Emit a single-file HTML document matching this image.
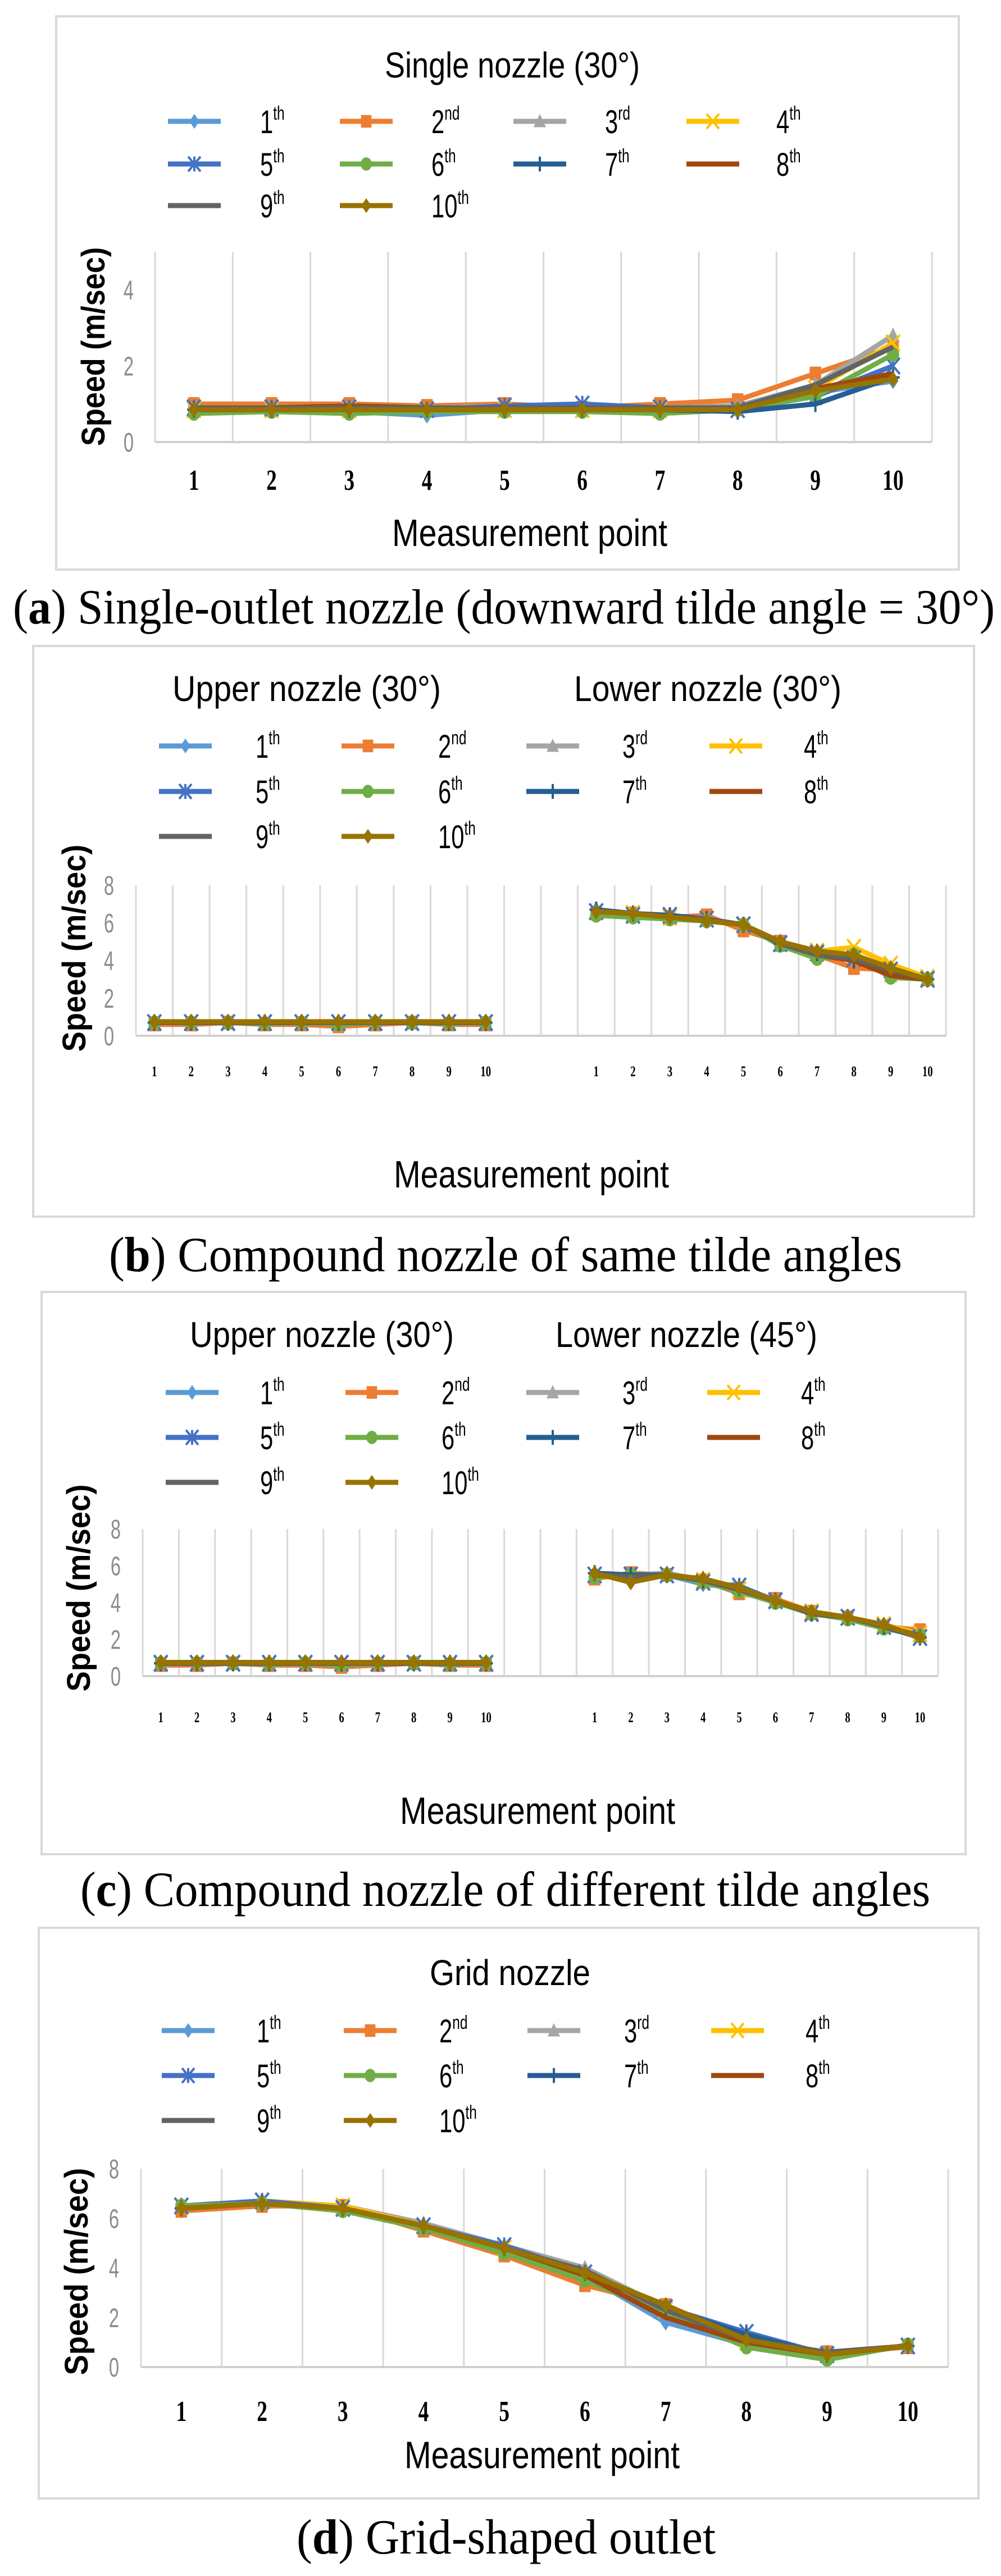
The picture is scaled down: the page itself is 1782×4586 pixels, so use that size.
<!DOCTYPE html>
<html><head><meta charset="utf-8">
<style>
html,body{margin:0;padding:0;background:#fff;}
svg{display:block;}
text{font-family:"Liberation Sans",sans-serif;}
.serif{font-family:"Liberation Serif",serif;}
</style></head>
<body>
<svg id="fig" width="1782" height="4586" viewBox="0 0 1782 4586" xmlns="http://www.w3.org/2000/svg"></svg>
<script>
// ---------- data ----------
const seriesNames = ["1","2","3","4","5","6","7","8","9","10"];
const seriesSup = ["th","nd","rd","th","th","th","th","th","th","th"];
const seriesColors = ["#5B9BD5","#ED7D31","#A5A5A5","#FFC000","#4472C4","#70AD47","#255E91","#9E480E","#636363","#997300"];
const seriesMarkers = ["diamond","square","triangle","x","star","circle","plus","none","none","diamond"];
const pointLabels = ["1","2","3","4","5","6","7","8","9","10"];
const yTicksA = [0,2,4];
const yTicksBCD = [0,2,4,6,8];

// (a) single nozzle
const singleVals = [
 [0.85,0.85,0.8,0.7,0.85,0.85,0.85,0.85,1.3,1.6],
 [1.0,1.0,1.0,0.95,1.0,0.9,1.0,1.1,1.8,2.5],
 [0.9,0.9,0.95,0.9,0.95,0.9,0.9,0.95,1.5,2.8],
 [0.85,0.85,0.85,0.85,0.85,0.85,0.85,0.85,1.4,2.6],
 [0.9,0.9,0.9,0.85,0.95,1.0,0.9,0.85,1.2,2.0],
 [0.75,0.8,0.75,0.8,0.8,0.8,0.75,0.85,1.2,2.3],
 [0.85,0.85,0.85,0.85,0.85,0.85,0.85,0.8,1.0,1.7],
 [0.9,0.9,0.95,0.9,0.9,0.9,0.9,0.85,1.4,1.8],
 [0.9,0.9,0.9,0.9,0.9,0.9,0.9,0.9,1.5,2.5],
 [0.85,0.85,0.85,0.85,0.85,0.85,0.85,0.85,1.35,1.65]
];
// (b) compound same angles
const upperB = [
 [0.7,0.7,0.7,0.7,0.7,0.7,0.7,0.7,0.7,0.7],
 [0.6,0.6,0.7,0.6,0.6,0.5,0.6,0.7,0.6,0.6],
 [0.7,0.7,0.7,0.7,0.7,0.7,0.7,0.7,0.7,0.7],
 [0.7,0.7,0.7,0.7,0.7,0.7,0.7,0.7,0.7,0.7],
 [0.7,0.7,0.7,0.7,0.7,0.7,0.7,0.7,0.7,0.7],
 [0.7,0.7,0.7,0.65,0.7,0.6,0.7,0.7,0.65,0.7],
 [0.7,0.7,0.7,0.7,0.7,0.7,0.7,0.7,0.7,0.7],
 [0.7,0.7,0.7,0.7,0.7,0.7,0.7,0.7,0.7,0.7],
 [0.7,0.7,0.7,0.7,0.7,0.7,0.7,0.7,0.7,0.7],
 [0.75,0.75,0.75,0.75,0.75,0.75,0.75,0.75,0.75,0.75]
];
const lowerB = [
 [6.7,6.5,6.4,6.2,5.9,4.9,4.3,4.0,3.6,3.0],
 [6.5,6.5,6.3,6.4,5.6,5.0,4.3,3.6,3.5,3.0],
 [6.6,6.5,6.3,6.2,5.9,4.8,4.3,4.2,3.2,3.0],
 [6.6,6.5,6.3,6.2,5.9,4.9,4.5,4.7,3.8,3.1],
 [6.6,6.4,6.4,6.2,5.9,4.9,4.4,4.1,3.5,3.0],
 [6.4,6.3,6.2,6.1,5.9,4.8,4.1,4.3,3.1,3.0],
 [6.7,6.5,6.4,6.2,5.9,4.9,4.4,4.0,3.5,3.0],
 [6.6,6.5,6.3,6.2,5.9,4.9,4.3,4.0,3.2,3.0],
 [6.6,6.5,6.3,6.2,5.9,4.9,4.3,4.1,3.5,3.0],
 [6.6,6.5,6.3,6.1,5.9,5.0,4.5,4.3,3.6,3.0]
];
// (c) compound different angles
const upperC = upperB;
const lowerC = [
 [5.5,5.5,5.5,5.0,4.8,4.1,3.4,3.2,2.7,2.1],
 [5.3,5.6,5.5,5.2,4.5,4.2,3.5,3.2,2.7,2.5],
 [5.5,5.5,5.6,5.2,4.7,4.1,3.4,3.2,2.7,2.2],
 [5.5,5.5,5.5,5.2,4.7,4.1,3.5,3.2,2.8,2.3],
 [5.5,5.5,5.5,5.1,4.9,4.1,3.4,3.2,2.7,2.1],
 [5.4,5.5,5.5,5.1,4.6,4.0,3.4,3.1,2.6,2.2],
 [5.6,5.5,5.5,5.2,4.8,4.1,3.4,3.2,2.7,2.1],
 [5.5,5.4,5.5,5.2,4.7,4.1,3.4,3.2,2.7,2.2],
 [5.5,5.4,5.5,5.2,4.7,4.1,3.4,3.2,2.7,2.2],
 [5.6,5.1,5.5,5.3,4.8,4.1,3.5,3.2,2.8,2.1]
];
// (d) grid nozzle
const gridVals = [
 [6.5,6.7,6.4,5.7,4.8,3.7,1.8,0.9,0.4,0.85],
 [6.3,6.5,6.5,5.5,4.5,3.3,2.5,1.0,0.6,0.8],
 [6.5,6.7,6.5,5.8,4.9,4.0,2.4,1.1,0.6,0.85],
 [6.5,6.7,6.5,5.7,4.8,3.8,2.3,1.0,0.5,0.85],
 [6.5,6.7,6.4,5.7,4.9,3.8,2.4,1.4,0.5,0.85],
 [6.5,6.6,6.3,5.6,4.6,3.5,2.2,0.8,0.3,0.9],
 [6.4,6.6,6.4,5.7,4.8,3.8,2.4,1.3,0.5,0.85],
 [6.4,6.6,6.4,5.7,4.8,3.7,2.0,1.0,0.5,0.85],
 [6.4,6.6,6.4,5.7,4.8,3.9,2.3,1.1,0.6,0.85],
 [6.4,6.6,6.4,5.7,4.8,3.8,2.5,1.1,0.5,0.85]
];

// ---------- drawing ----------
const NS="http://www.w3.org/2000/svg";
const svg=document.getElementById('fig');
function mk(tag,attrs,parent){const e=document.createElementNS(NS,tag);for(const k in attrs)e.setAttribute(k,attrs[k]);(parent||svg).appendChild(e);return e;}
// text with horizontal squeeze (reference glyphs are tall & narrow)
function txt(parent,x,y,str,size,sx,attrs){
  const g=mk('g',{transform:`translate(${x},${y}) scale(${sx},1)`},parent);
  const a=Object.assign({x:0,y:0,'font-size':size,fill:'#000'},attrs||{});
  const t=mk('text',a,g);t.textContent=str;return t;
}

function marker(g,type,x,y,c,s){
  let e;
  const h=s*1.2;
  if(type==="diamond"){e=mk('polygon',{points:`${x},${y-h} ${x+s*0.8},${y} ${x},${y+h} ${x-s*0.8},${y}`,fill:c},g);}
  else if(type==="square"){e=mk('rect',{x:x-s*0.85,y:y-h*0.85,width:s*1.7,height:h*1.7,fill:c},g);}
  else if(type==="triangle"){e=mk('polygon',{points:`${x},${y-h} ${x+s},${y+h*0.8} ${x-s},${y+h*0.8}`,fill:c},g);}
  else if(type==="circle"){e=mk('ellipse',{cx:x,cy:y,rx:s*0.9,ry:h*0.9,fill:c},g);}
  else if(type==="x"){e=mk('path',{d:`M${x-s} ${y-h}L${x+s} ${y+h}M${x+s} ${y-h}L${x-s} ${y+h}`,stroke:c,'stroke-width':4,fill:'none'},g);}
  else if(type==="star"){e=mk('path',{d:`M${x-s} ${y-h}L${x+s} ${y+h}M${x+s} ${y-h}L${x-s} ${y+h}M${x} ${y-h}L${x} ${y+h}`,stroke:c,'stroke-width':4,fill:'none'},g);}
  else if(type==="plus"){e=mk('path',{d:`M${x-s} ${y}L${x+s} ${y}M${x} ${y-h}L${x} ${y+h}`,stroke:c,'stroke-width':4,fill:'none'},g);}
  if(e){}
}

function drawPanel(cfg){
  const g=mk('g',{});
  
  
  const box=mk('rect',{x:cfg.box[0],y:cfg.box[1],width:cfg.box[2]-cfg.box[0],height:cfg.box[3]-cfg.box[1],fill:'#fff',stroke:'#d9d9d9','stroke-width':4},g);
  
  // titles
  cfg.titles.forEach(t=>{
    const e=mk('text',{x:t[1],y:t[2],'text-anchor':'middle','font-size':64,fill:'#000',textLength:t[3],lengthAdjust:'spacingAndGlyphs'},g);
    e.textContent=t[0];
    
  });
  // legend
  const lg=mk('g',{},g);
  seriesNames.forEach((n,i)=>{
    const row=Math.floor(i/4),col=i%4;
    const y=cfg.legRows[row],lx=cfg.legCols[col];
    const it=mk('g',{},lg);
    mk('line',{x1:lx,y1:y,x2:lx+94,y2:y,stroke:seriesColors[i],'stroke-width':9},it);
    marker(it,seriesMarkers[i],lx+47,y,seriesColors[i],11);
    const t=txt(it,cfg.legLab[col],y+21,n,58,0.72);
    const sp=mk('tspan',{'font-size':34,dy:-24},t);sp.textContent=seriesSup[i];
  });
  // axes
  const L=cfg.plot[0],R=cfg.plot[1],T=cfg.plot[2],B=cfg.plot[3];
  const n=cfg.n;const cw=(R-L)/n;
  const xs=i=>L+cw*(i+0.5);
  const ys=v=>B-(B-T)*v/cfg.ymax;
  const grid=mk('g',{},g);
  for(let i=0;i<=n;i++){mk('line',{x1:L+cw*i,y1:T,x2:L+cw*i,y2:B,stroke:'#d9d9d9','stroke-width':3},grid);}
  const base=mk('line',{x1:L,y1:B,x2:R,y2:B,stroke:'#d0d0d0','stroke-width':4},g);
  
  cfg.yTicks.forEach(v=>{
    const t=txt(g,cfg.yLabX,ys(v)+17,String(v),48,0.68,{'text-anchor':'middle',fill:'#8c8c8c'});
    
  });
  cfg.xSlots.forEach((slot,k)=>{
    const t=txt(g,xs(slot),cfg.xLabY,pointLabels[k%10],cfg.xLabSize,0.72,{'text-anchor':'middle','font-weight':'bold',class:'serif'});
    
  });
  const yt=mk('text',{x:0,y:0,'text-anchor':'middle','font-size':58,'font-weight':'bold',fill:'#000',transform:`translate(${cfg.yTitle[0]},${cfg.yTitle[1]}) rotate(-90)`,textLength:cfg.yTitle[2],lengthAdjust:'spacingAndGlyphs'},g);
  yt.textContent='Speed (m/sec)';
  const xt=mk('text',{x:cfg.xTitle[0],y:cfg.xTitle[1],'text-anchor':'middle','font-size':68,fill:'#000',textLength:490,lengthAdjust:'spacingAndGlyphs'},g);
  xt.textContent='Measurement point';
  // series
  cfg.groups.forEach(grp=>{
    grp.data.forEach((vals,i)=>{
      const sg=mk('g',{},g);
      const pts=vals.map((v,j)=>xs(grp.start+j)+','+ys(v)).join(' ');
      mk('polyline',{points:pts,fill:'none',stroke:seriesColors[i],'stroke-width':9,'stroke-linejoin':'round'},sg);
      vals.forEach((v,j)=>marker(sg,seriesMarkers[i],xs(grp.start+j),ys(v),seriesColors[i],cfg.ms));
    });
  });
  // caption
  const cap=mk('text',{x:cfg.cap[0],y:cfg.cap[1],'font-size':88,fill:'#000',class:'serif',textLength:cfg.cap[2],lengthAdjust:'spacingAndGlyphs'},g);
  
  const t1=mk('tspan',{},cap);t1.textContent='(';
  const t2=mk('tspan',{'font-weight':'bold'},cap);t2.textContent=cfg.cap[3];
  const t3=mk('tspan',{},cap);t3.textContent=') '+cfg.cap[4];
}

const tenSlots=[0,1,2,3,4,5,6,7,8,9];
const splitSlots=[0,1,2,3,4,5,6,7,8,9,12,13,14,15,16,17,18,19,20,21];

drawPanel({name:'panel-a-single-nozzle',box:[100,29,1707,1014],
  titles:[['Single nozzle (30°)',912,138,454]],
  legRows:[216,292,366],legCols:[299,605,914,1222],legLab:[463,768,1077,1382],
  plot:[276,1659,448,787],n:10,ymax:5,yTicks:yTicksA,yLabX:229,
  xSlots:tenSlots,xLabY:872,xLabSize:52,yTitle:[186,617,354],xTitle:[943,972],ms:12,
  groups:[{start:0,data:singleVals}],
  cap:[23,1110,1748,'a','Single-outlet nozzle (downward tilde angle = 30°)']});

drawPanel({name:'panel-b-compound-same',box:[59,1150,1734,2166],
  titles:[['Upper nozzle (30°)',546,1248,478],['Lower nozzle (30°)',1260,1248,476]],
  legRows:[1328,1409,1489],legCols:[283,608,937,1263],legLab:[455,780,1108,1431],
  plot:[242,1684,1576,1844],n:22,ymax:8,yTicks:yTicksBCD,yLabX:194,
  xSlots:splitSlots,xLabY:1916,xLabSize:26,yTitle:[152,1688,369],xTitle:[946,2114],ms:12,
  groups:[{start:0,data:upperB},{start:12,data:lowerB}],
  cap:[194,2263,1412,'b','Compound nozzle of same tilde angles']});

drawPanel({name:'panel-c-compound-different',box:[74,2300,1719,3301],
  titles:[['Upper nozzle (30°)',573,2398,470],['Lower nozzle (45°)',1222,2398,466]],
  legRows:[2479,2559,2639],legCols:[295,615,937,1259],legLab:[463,786,1108,1426],
  plot:[254,1670,2722,2984],n:22,ymax:8,yTicks:yTicksBCD,yLabX:206,
  xSlots:splitSlots,xLabY:3066,xLabSize:26,yTitle:[160,2827,369],xTitle:[957,3247],ms:12,
  groups:[{start:0,data:upperC},{start:12,data:lowerC}],
  cap:[143,3393,1513,'c','Compound nozzle of different tilde angles']});

drawPanel({name:'panel-d-grid-nozzle',box:[69,3432,1742,4448],
  titles:[['Grid nozzle',908,3534,286]],
  legRows:[3615,3695,3775],legCols:[288,612,939,1266],legLab:[457,782,1111,1434],
  plot:[251,1688,3861,4214],n:10,ymax:8,yTicks:yTicksBCD,yLabX:203,
  xSlots:tenSlots,xLabY:4310,xLabSize:52,yTitle:[156,4044,369],xTitle:[965,4394],ms:12,
  groups:[{start:0,data:gridVals}],
  cap:[528,4546,746,'d','Grid-shaped outlet']});
</script>
</body></html>
